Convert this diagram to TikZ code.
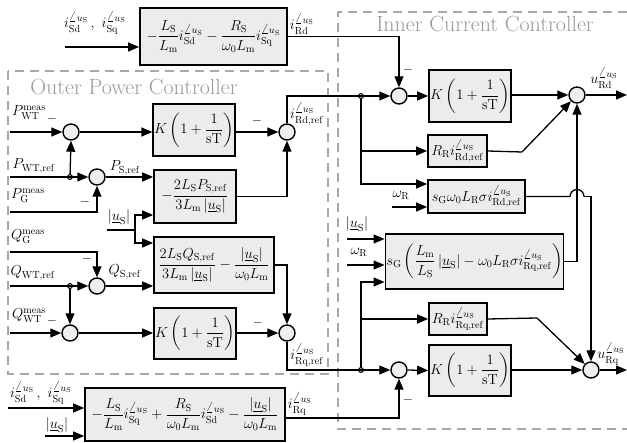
\RequirePackage{fix-cm}
\documentclass[tikz,border=0pt]{standalone}
\usepackage{amsmath}
\usetikzlibrary{arrows.meta,calc}
\definecolor{boxfill}{HTML}{ECECEC}
\definecolor{sumfill}{HTML}{EEEEEE}
\definecolor{dashgray}{HTML}{A8A8A8}
\definecolor{titlegray}{HTML}{9A9A9A}
\newcommand{\cur}[1]{i_{\mathrm{#1}}^{\angle u_{\mathrm{S}}}}
\newcommand{\myUS}{\left|\underline{u}_{\mathrm{S}}\right|}
\newcommand{\rr}[1]{\mathrm{#1}}
\begin{document}
\begin{tikzpicture}[x=1pt,y=-1pt,
  ln/.style={line width=1.3pt},
  ar/.style={line width=1.3pt,-{Triangle[length=11pt,width=9pt]}},
  blk/.style={draw,line width=1.7pt,fill=boxfill,inner sep=1pt,font=\fontsize{14.5}{17}\selectfont},
  sumc/.style={circle,draw,line width=1.4pt,fill=sumfill,minimum size=16pt,inner sep=0pt},
  jdot/.style={circle,draw,line width=0.9pt,fill=gray!50,minimum size=5pt,inner sep=0pt},
  lbl/.style={font=\fontsize{14.5}{17}\selectfont,inner sep=0pt},
  mns/.style={font=\fontsize{13}{15}\selectfont,inner sep=0pt},
  title/.style={text=titlegray,font=\fontsize{22}{25}\selectfont,inner sep=0pt},
  dbox/.style={draw=dashgray,line width=1.5pt,dash pattern=on 9pt off 6pt}
]
\useasboundingbox (0,0) rectangle (627,443);

% dashed controller frames
\draw[dbox] (8,71) rectangle (328,374);
\draw[dbox] (627,12) -- (338,12) -- (338,429) -- (627,429);
\node[title] (tOuter) at (134,87) {Outer Power Controller};
\node[title] (tInner) at (485,24) {Inner Current Controller};

% blocks
\node[blk,minimum width=147pt,minimum height=57pt] (top) at (213.5,36.5)
  {$-\dfrac{L_{\rr{S}}}{L_{\rr{m}}}\cur{Sd}-\dfrac{R_{\rr{S}}}{\omega_0 L_{\rr{m}}}\cur{Sq}$};
\node[blk,minimum width=80pt,minimum height=52pt] (pi1) at (194,130)
  {$K\left(1+\dfrac{1}{\rr{sT}}\right)$};
\node[blk,minimum width=82pt,minimum height=53pt] (bP) at (195,196.5)
  {$-\dfrac{2L_{\rr{S}}P_{\rr{S,ref}}}{3L_{\rr{m}}\myUS}$};
\node[blk,minimum width=120pt,minimum height=56pt] (bQ) at (214,265)
  {$\dfrac{2L_{\rr{S}}Q_{\rr{S,ref}}}{3L_{\rr{m}}\myUS}-\dfrac{\myUS}{\omega_0L_{\rr{m}}}$};
\node[blk,minimum width=82pt,minimum height=51pt] (pi3) at (195,333.5)
  {$K\left(1+\dfrac{1}{\rr{sT}}\right)$};
\node[blk,minimum width=200pt,minimum height=53pt] (bot) at (185,414.5)
  {$-\dfrac{L_{\rr{S}}}{L_{\rr{m}}}\cur{Sq}+\dfrac{R_{\rr{S}}}{\omega_0L_{\rr{m}}}\cur{Sd}-\dfrac{\myUS}{\omega_0L_{\rr{m}}}$};
\node[blk,minimum width=82pt,minimum height=52pt] (pid) at (470,96)
  {$K\left(1+\dfrac{1}{\rr{sT}}\right)$};
\node[blk,minimum width=82pt,minimum height=51pt] (piq) at (470,370.5)
  {$K\left(1+\dfrac{1}{\rr{sT}}\right)$};
\node[blk,minimum width=59pt,minimum height=32pt] (rrd) at (457.5,151)
  {$R_{\rr{R}}\cur{Rd,ref}$};
\node[blk,minimum width=97pt,minimum height=33pt] (sgd) at (476.5,196.5)
  {$s_{\rr{G}}\omega_0L_{\rr{R}}\sigma\cur{Rd,ref}$};
\node[blk,minimum width=177pt,minimum height=55pt] (sgq) at (474.5,261.5)
  {$s_{\rr{G}}\left(\dfrac{L_{\rr{m}}}{L_{\rr{S}}}\myUS-\omega_0L_{\rr{R}}\sigma\cur{Rq,ref}\right)$};
\node[blk,minimum width=58pt,minimum height=32pt] (rrq) at (458,319)
  {$R_{\rr{R}}\cur{Rq,ref}$};

% summing junctions
\node[sumc] (s1) at (71,132) {};
\node[sumc] (s3) at (97,177) {};
\node[sumc] (s5) at (97,286) {};
\node[sumc] (s6) at (70,333) {};
\node[sumc] (s2) at (287,132) {};
\node[sumc] (s4) at (287,333) {};
\node[sumc] (s7) at (399,96) {};
\node[sumc] (s10) at (399,370) {};
\node[sumc] (s8) at (577,95) {};
\node[sumc] (s9) at (591,370) {};

% coordinates for free ends and bends
\coordinate (inTop) at (65,47);
\coordinate (inP1) at (10,132);
\coordinate (inP2) at (10,177);
\coordinate (inP3) at (10,212);
\coordinate (inU) at (107,230);
\coordinate (jU) at (135,230);
\coordinate (inQ1) at (10,252);
\coordinate (inQ2) at (10,286);
\coordinate (inQ3) at (10,333);
\coordinate (bendD) at (287,96);
\coordinate (bendQ) at (287,370);
\coordinate (inB1) at (8,408);
\coordinate (inB2) at (45,436);
\coordinate (outB) at (285,418);
\coordinate (inUr) at (347,239);
\coordinate (inWr) at (347,265);
\coordinate (inWd) at (392,207);
\coordinate (kD) at (522,152);
\coordinate (kQ) at (537,318);
\coordinate (endD) at (627,95);
\coordinate (endQ) at (627,370);
\coordinate (hopA) at (570,196.5);
\coordinate (hopB) at (584,196.5);

% junction dots
\node[jdot] (d1) at (70,177) {};
\node[jdot] (d2) at (70,286) {};
\node[jdot] (d3) at (361,96) {};
\node[jdot] (d4) at (361,370) {};

% top block
\draw[ar] (inTop) -- (inTop -| top.west);
\draw[ar] (top.east) -| (s7.north);

% outer controller, P part
\draw[ar] (inP1) -- (s1.west);
\draw[ar] (inP2) -- (s3.west);
\draw[ar] (d1) -- (s1.south);
\draw[ar] (inP3) -| (s3.south);
\draw[ar] (s1.east) -- (s1.east -| pi1.west);
\draw[ar] (pi1.east |- s2) -- (s2.west);
\draw[ar] (s3.east) -- (s3.east -| bP.west);
\draw[ar] (bP.east) -| (s2.south);
\draw[ln] (inU) -- (jU);
\draw[ar] (jU) |- ($(bP.west)+(0,18.5)$);
\draw[ar] (jU) |- ($(bQ.west)+(0,-22)$);

% outer controller, Q part
\draw[ar] (inQ1) -| (s5.north);
\draw[ar] (inQ2) -- (s5.west);
\draw[ar] (s5.east) -- (s5.east -| bQ.west);
\draw[ar] (d2) -- (s6.north);
\draw[ar] (inQ3) -- (s6.west);
\draw[ar] (s6.east) -- (s6.east -| pi3.west);
\draw[ar] (pi3.east |- s4) -- (s4.west);
\draw[ar] (bQ.east) -| (s4.north);

% references to inner loop
\draw[ar] (s2.north) -- (bendD) -- (s7.west);
\draw[ar] (s4.south) -- (bendQ) -- (s10.west);

% bottom block
\draw[ar] (inB1) -- (inB1 -| bot.west);
\draw[ar] (inB2) -- (inB2 -| bot.west);
\draw[ar] (outB) -| (s10.south);

% inner controller d axis
\draw[ar] (s7.east) -- (pid.west);
\draw[ar] (pid.east |- s8) -- (s8.west);
\draw[ar] (s8.east) -- (endD);
\draw[ar] (d3) |- ($(sgd.west)+(0,-12.5)$);
\draw[ar] (d3 |- rrd) -- (rrd.west);
\draw[ar] (inWd) -- (inWd -| sgd.west);
\draw[ln] (rrd.east) -- (kD);
\draw[ar] (kD) -- (s8);
\draw[ln] (sgd.east) -- (hopA) arc[start angle=180,end angle=0,radius=7pt] -- (hopB);
\draw[ar] (hopB) -| (s9.north);
\draw[ar] (sgq.east) -| (s8.south);

% inner controller q axis
\draw[ar] (d4) |- ($(sgq.west)+(0,20.5)$);
\draw[ar] (d4 |- rrq) -- (rrq.west);
\draw[ar] (inUr) -- (inUr -| sgq.west);
\draw[ar] (inWr) -- (inWr -| sgq.west);
\draw[ln] (rrq.east) -- (kQ);
\draw[ar] (kQ) -- (s9);
\draw[ar] (s10.east) -- (piq.west);
\draw[ar] (piq.east |- s9) -- (s9.west);
\draw[ar] (s9.east) -- (endQ);

% labels
\node[lbl] (lTopIn) at (95,23) {$\cur{Sd}\,,\ \cur{Sq}$};
\node[lbl] (lRd) at (302,24) {$\cur{Rd}$};
\node[lbl] (lP1) at (29,113) {$P_{\rr{WT}}^{\rr{meas}}$};
\node[lbl] (lP2) at (34,166) {$P_{\rr{WT,ref}}$};
\node[lbl] (lP3) at (28,196) {$P_{\rr{G}}^{\rr{meas}}$};
\node[lbl] (lPS) at (125,168) {$P_{\rr{S,ref}}$};
\node[lbl] (lU1) at (119,217) {$\myUS$};
\node[lbl] (lQ1) at (28,237) {$Q_{\rr{G}}^{\rr{meas}}$};
\node[lbl] (lQ2) at (33,273) {$Q_{\rr{WT,ref}}$};
\node[lbl] (lQS) at (125,272) {$Q_{\rr{S,ref}}$};
\node[lbl] (lQ3) at (29,316) {$Q_{\rr{WT}}^{\rr{meas}}$};
\node[lbl] (lRdr) at (307,114) {$\cur{Rd,ref}$};
\node[lbl] (lRqr) at (307,355) {$\cur{Rq,ref}$};
\node[lbl] (lBIn) at (41,393) {$\cur{Sd}\,,\ \cur{Sq}$};
\node[lbl] (lBU) at (57,425) {$\myUS$};
\node[lbl] (lRq) at (300,404) {$\cur{Rq}$};
\node[lbl] (lWd) at (401,195) {$\omega_{\rr{R}}$};
\node[lbl] (lUr) at (357,224) {$\myUS$};
\node[lbl] (lWr) at (359,252) {$\omega_{\rr{R}}$};
\node[lbl] (lURd) at (604,78) {$u_{\rr{Rd}}^{\angle u_{\rr{S}}}$};
\node[lbl] (lURq) at (611,354) {$u_{\rr{Rq}}^{\angle u_{\rr{S}}}$};

% minus signs
\node[mns] (m1) at (52,119) {$-$};
\node[mns] (m3) at (85,202) {$-$};
\node[mns] (m5) at (87,259) {$-$};
\node[mns] (m6) at (52,321) {$-$};
\node[mns] (m2) at (257,121) {$-$};
\node[mns] (m4) at (258,323) {$-$};
\node[mns] (m7) at (408,70) {$-$};
\node[mns] (m10) at (408,400) {$-$};
\end{tikzpicture}
\end{document}
